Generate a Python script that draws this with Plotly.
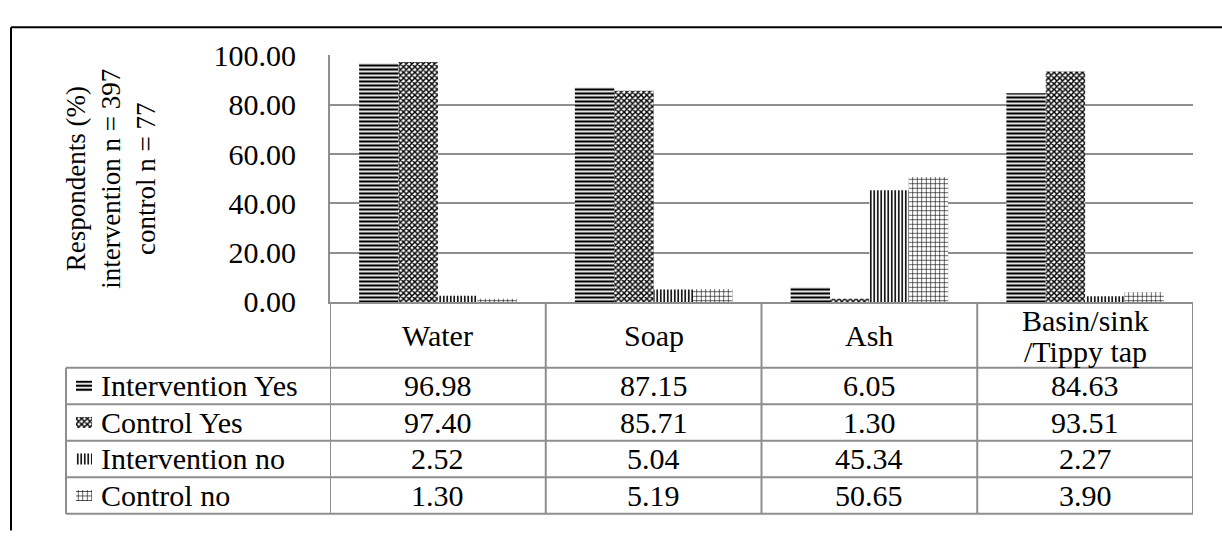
import plotly.graph_objects as go

# ---- data -------------------------------------------------------------
categories = ["Water", "Soap", "Ash", "Basin/sink\n/Tippy tap"]
series_names = ["Intervention Yes", "Control Yes", "Intervention no", "Control no"]
intervention_yes = [96.98, 87.15, 6.05, 84.63]
control_yes = [97.40, 85.71, 1.30, 93.51]
intervention_no = [2.52, 5.04, 45.34, 2.27]
control_no = [1.30, 5.19, 50.65, 3.90]
series_values = [intervention_yes, control_yes, intervention_no, control_no]
y_ticks = [0, 20, 40, 60, 80, 100]
y_title = ["Respondents (%)", "intervention n = 397", "control n = 77"]

# ---- styling ------------------------------------------------------------
W, H = 1222, 537
FONT = "Liberation Serif, Times New Roman, serif"
GRID = "#8e8e8e"
PLOT_L, PLOT_R, PLOT_T, PLOT_B = 330, 1193, 42, 304
TABLE_L, HEADER_B, ROW_H = 66, 374, 38.8
KEY_L, KEY_R = 76, 92

patterns = [
    dict(shape="-", size=4, solidity=0.55),
    dict(shape="x", size=4, solidity=0.6),
    dict(shape="|", size=3.5, solidity=0.45),
    dict(shape="+", size=4.5, solidity=0.25),
]


def fx(px):
    return px / W


def fy(py):
    return 1 - py / H


def serif(size=30):
    return dict(family=FONT, size=size, color="black")


x_labels = [c.replace("\n", " ") for c in categories]

fig = go.Figure()

for name, vals, pat in zip(series_names, series_values, patterns):
    fig.add_trace(go.Bar(
        name=name, x=x_labels, y=vals, showlegend=False,
        marker=dict(color="white", line=dict(width=0),
                    pattern=dict(fgcolor="black", bgcolor="white",
                                 fillmode="replace", **pat)),
    ))

# legend keys in the data table's first column
for i, (name, pat) in enumerate(zip(series_names, patterns)):
    fig.add_trace(go.Bar(
        x=[1], y=[i], orientation="h", width=0.3, xaxis="x2", yaxis="y2",
        showlegend=False, hoverinfo="skip",
        marker=dict(color="white", line=dict(width=0),
                    pattern=dict(fgcolor="black", bgcolor="white",
                                 fillmode="replace", **pat)),
    ))

shapes = []
line_style = dict(color=GRID, width=2)

# outer frame (top and left edges)
shapes.append(dict(type="line", xref="paper", yref="paper",
                   x0=fx(11), x1=fx(W + 10), y0=fy(12), y1=fy(12),
                   line=dict(color="black", width=2)))
shapes.append(dict(type="line", xref="paper", yref="paper",
                   x0=fx(11), x1=fx(11), y0=fy(12), y1=fy(H + 10),
                   line=dict(color="black", width=2)))

# data table: vertical separators at category boundaries
n_rows = len(series_names)
table_bottom = HEADER_B + n_rows * ROW_H
for k in range(len(categories) + 1):
    shapes.append(dict(type="line", xref="x", yref="paper",
                       x0=k - 0.5, x1=k - 0.5, y0=fy(PLOT_B), y1=fy(table_bottom),
                       line=line_style))
# table: left edge of the series-name column
shapes.append(dict(type="line", xref="paper", yref="paper",
                   x0=fx(TABLE_L), x1=fx(TABLE_L), y0=fy(HEADER_B), y1=fy(table_bottom),
                   line=line_style))
# table: horizontal rules
for r in range(n_rows + 1):
    yy = fy(HEADER_B + r * ROW_H)
    shapes.append(dict(type="line", xref="paper", yref="paper",
                       x0=fx(TABLE_L), x1=fx(PLOT_R), y0=yy, y1=yy,
                       line=line_style))

annotations = []

# axis title
annotations.append(dict(
    x=fx(111), y=fy(173), xref="paper", yref="paper", showarrow=False,
    text="<br>".join(y_title), textangle=-90, align="center",
    xanchor="center", yanchor="middle", font=serif(27),
))

# header row: category names
for xl, cat in zip(x_labels, categories):
    lines = cat.split("\n")
    mid = (PLOT_B + HEADER_B) / 2 + 1
    step = 33
    start = mid - step * (len(lines) - 1) / 2
    for j, ln in enumerate(lines):
        annotations.append(dict(
            x=xl, y=fy(start + j * step), xref="x", yref="paper", showarrow=False,
            text=ln, xanchor="center", yanchor="middle", font=serif(30),
        ))

# body rows: series names and values
for r, (name, vals) in enumerate(zip(series_names, series_values)):
    yc = fy(HEADER_B + (r + 0.5) * ROW_H)
    annotations.append(dict(
        x=fx(99), y=yc, xref="paper", yref="paper", showarrow=False,
        text=name, xanchor="left", yanchor="middle", font=serif(30),
    ))
    for xl, v in zip(x_labels, vals):
        annotations.append(dict(
            x=xl, y=yc, xref="x", yref="paper", showarrow=False,
            text=f"{v:.2f}", xanchor="center", yanchor="middle", font=serif(30),
        ))

fig.update_layout(
    width=W, height=H,
    margin=dict(l=0, r=0, t=0, b=0),
    paper_bgcolor="white", plot_bgcolor="white",
    barmode="group", bargap=0.27, bargroupgap=0,
    font=serif(30),
    xaxis=dict(
        domain=[fx(PLOT_L), fx(PLOT_R)], type="category",
        categoryorder="array", categoryarray=x_labels,
        range=[-0.5, len(categories) - 0.5],
        showticklabels=False, ticks="", showgrid=False, zeroline=False,
        showline=True, linecolor=GRID, linewidth=2, fixedrange=True,
    ),
    yaxis=dict(
        domain=[fy(PLOT_B), fy(PLOT_T)], range=[0, 100],
        tickvals=y_ticks, tickformat=".2f", ticks="",
        ticklabelstandoff=26, tickfont=serif(30),
        showgrid=True, gridcolor=GRID, gridwidth=2,
        zeroline=False, showline=True, linecolor=GRID, linewidth=2,
        fixedrange=True,
    ),
    xaxis2=dict(domain=[fx(KEY_L), fx(KEY_R)], range=[0, 1], visible=False,
                anchor="y2", fixedrange=True),
    yaxis2=dict(domain=[fy(table_bottom), fy(HEADER_B)], range=[n_rows - 0.5, -0.5],
                visible=False, anchor="x2", fixedrange=True),
    shapes=shapes,
    annotations=annotations,
)

fig.write_html("out.html")
